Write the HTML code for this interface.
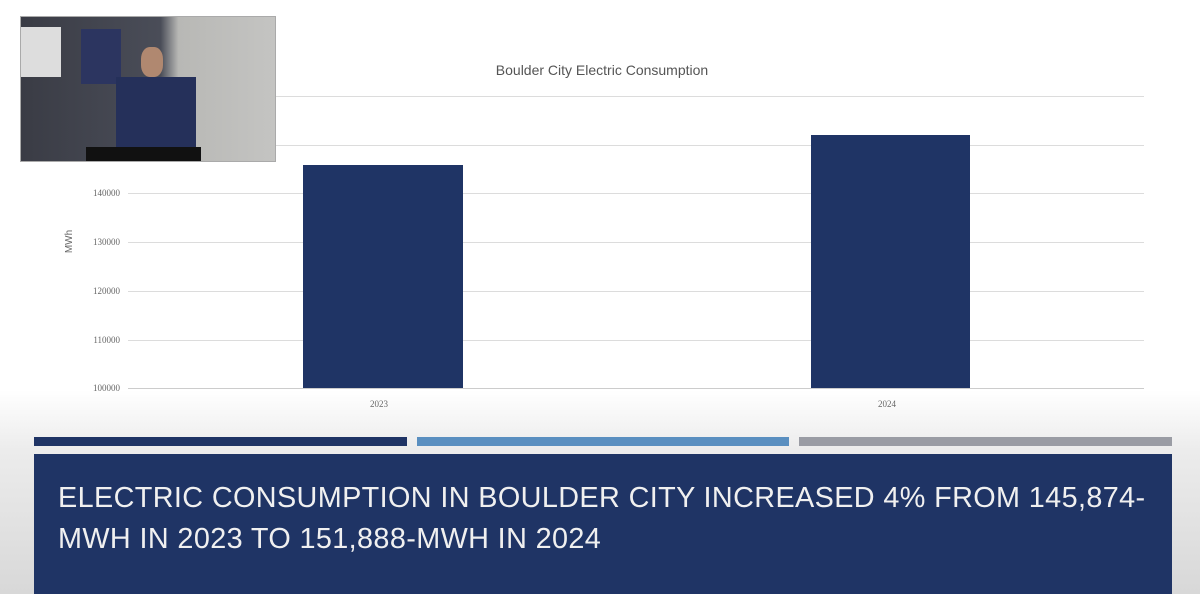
<!DOCTYPE html>
<html><head><style>
body{margin:0;width:1200px;height:594px;overflow:hidden;background:linear-gradient(180deg,#fff 0,#fff 390px,#ececec 450px,#d8d8d8 594px);font-family:"Liberation Sans",sans-serif;position:relative}
.a{position:absolute}
.g{position:absolute;left:128px;width:1016px;height:1px;background:#dcdcdc}
.yl{position:absolute;left:84px;width:36px;text-align:right;font-family:"Liberation Serif",serif;font-size:9px;color:#666}
</style></head><body>
<div class="a" style="left:0;width:1204px;text-align:center;font-size:14px;color:#555;top:62px">Boulder City Electric Consumption</div>
<div class="g" style="top:96px"></div><div class="g" style="top:145px"></div><div class="g" style="top:193px"></div><div class="g" style="top:242px"></div><div class="g" style="top:291px"></div><div class="g" style="top:340px"></div><div class="g" style="top:388px;background:#ccc"></div>
<div class="yl" style="top:188px">140000</div>
<div class="yl" style="top:237px">130000</div>
<div class="yl" style="top:286px">120000</div>
<div class="yl" style="top:335px">110000</div>
<div class="yl" style="top:383px">100000</div>
<div class="a" style="left:58px;top:236px;font-size:10px;color:#666;transform:rotate(-90deg)">MWh</div>
<div class="a" style="left:303px;top:165px;width:160px;height:223px;background:#1f3465"></div>
<div class="a" style="left:811px;top:135px;width:159px;height:253px;background:#1f3465"></div>
<div class="a" style="left:370px;top:399px;font-family:'Liberation Serif',serif;font-size:9px;color:#666">2023</div>
<div class="a" style="left:878px;top:399px;font-family:'Liberation Serif',serif;font-size:9px;color:#666">2024</div>
<div class="a" style="left:20px;top:16px;width:256px;height:146px;background:linear-gradient(90deg,#3a3c45 0,#4a4d58 55%,#b8b8b5 62%,#c4c4c2 100%);border:1px solid #aaa;box-sizing:border-box;overflow:hidden">
<div class="a" style="left:0;top:10px;width:40px;height:50px;background:#ddd"></div>
<div class="a" style="left:60px;top:12px;width:40px;height:55px;background:#2c3560"></div>
<div class="a" style="left:95px;top:60px;width:80px;height:70px;background:#25305a"></div>
<div class="a" style="left:120px;top:30px;width:22px;height:30px;background:#b08870;border-radius:40%"></div>
<div class="a" style="left:65px;top:130px;width:115px;height:16px;background:#111"></div>
</div>
<div class="a" style="left:34px;top:437px;width:373px;height:9px;background:#1f3465"></div>
<div class="a" style="left:417px;top:437px;width:372px;height:9px;background:#5a8fc0"></div>
<div class="a" style="left:799px;top:437px;width:373px;height:9px;background:#9a9ca4"></div>
<div class="a" style="left:34px;top:454px;width:1138px;height:140px;background:#1f3465"></div>
<div class="a" style="left:58px;top:478px;width:1114px;font-size:28.8px;line-height:41px;color:#f0f0f0;letter-spacing:0.38px;white-space:nowrap">ELECTRIC CONSUMPTION IN BOULDER CITY INCREASED 4% FROM 145,874-<br>MWH IN 2023 TO 151,888-MWH IN 2024</div>
</body></html>
